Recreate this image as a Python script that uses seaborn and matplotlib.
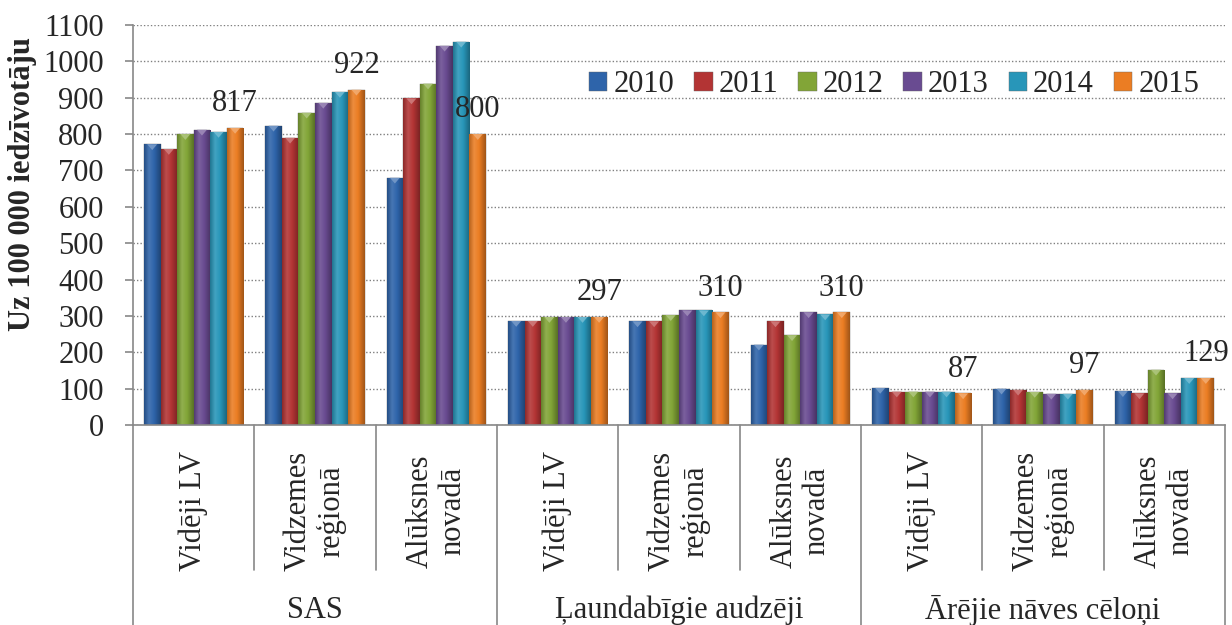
import matplotlib
matplotlib.use("Agg")
import matplotlib.pyplot as plt
import seaborn as sns
import pandas as pd
import numpy as np
from matplotlib.colors import to_rgb, LinearSegmentedColormap
from matplotlib.patches import Polygon

# ---- data ----
years = ["2010", "2011", "2012", "2013", "2014", "2015"]
groups = ["SAS", "Ļaundabīgie audzēji", "Ārējie nāves cēloņi"]
regions = ["Vidēji LV", "Vidzemes\nreģionā", "Alūksnes\nnovadā"]

# order: SAS(LV, Vidz, Alūk), Ļaundabīgie(LV, Vidz, Alūk), Ārējie(LV, Vidz, Alūk)
v2010 = [772, 823, 680, 286, 285, 221, 102, 100, 93]
v2011 = [759, 790, 898, 286, 285, 285, 92, 97, 87]
v2012 = [800, 859, 939, 297, 302, 247, 92, 91, 152]
v2013 = [812, 886, 1043, 297, 315, 310, 92, 86, 87]
v2014 = [806, 916, 1054, 297, 315, 304, 92, 86, 129]
v2015 = [817, 922, 800, 297, 310, 310, 87, 97, 129]

colors = ["#2E64AA", "#B33434", "#82A537", "#694B91", "#2896B9", "#EB7D23"]

series = [v2010, v2011, v2012, v2013, v2014, v2015]
cats = [f"{g}|{r}" for g in groups for r in regions]
rows = []
for y, vals in zip(years, series):
    for c, v in zip(cats, vals):
        rows.append({"cat": c, "year": y, "value": v})
df = pd.DataFrame(rows)

sns.set_style("white")
plt.rcParams["font.family"] = ["Liberation Serif", "DejaVu Serif"]
FS = 22

fig = plt.figure(figsize=(12.32, 6.25), dpi=100)
ax = fig.add_axes([133 / 1232, 1 - 425 / 625, (1225 - 133) / 1232, 400 / 625])

sns.barplot(data=df, x="cat", y="value", hue="year", order=cats, hue_order=years,
            palette=colors, width=0.82, ax=ax, saturation=1, legend=True,
            edgecolor="#666666", linewidth=0.3)


def shade(rgb, f):
    rgb = np.array(rgb)
    if f < 1:
        return tuple(rgb * f)
    return tuple(rgb + (1 - rgb) * (f - 1))


# gradient shading on bars (styling only; geometry from the library's patches)
for cont, col in zip(ax.containers, colors):
    base = to_rgb(col)
    cmap = LinearSegmentedColormap.from_list(
        "g", [(0, shade(base, 0.78)), (0.3, shade(base, 1.12)),
              (0.6, shade(base, 1.0)), (1, shade(base, 0.68))])
    grad = np.linspace(0, 1, 64).reshape(1, -1)
    for p in cont.patches:
        x, y0 = p.get_x(), p.get_y()
        w, h = p.get_width(), p.get_height()
        im = ax.imshow(grad, cmap=cmap, aspect="auto", extent=(x, x + w, y0, y0 + h),
                       zorder=p.get_zorder() + 0.1, interpolation="bilinear")
        im.set_clip_path(p)
        th = min(16, h * 0.5)
        tri = Polygon([[x + 0.2 * w, y0 + h], [x + 0.8 * w, y0 + h], [x + 0.5 * w, y0 + h - th]],
                      closed=True, facecolor=shade(base, 1.35), edgecolor="none",
                      zorder=p.get_zorder() + 0.2, alpha=0.9)
        ax.add_patch(tri)

ax.set_xlim(-0.5, len(cats) - 0.5)
ax.set_ylim(0, 1100)
ax.set_yticks(range(0, 1101, 100))
ax.tick_params(axis="y", labelsize=FS, length=6, width=1.2, color="#888888", pad=15,
               direction="out", left=True)
ax.set_xticks([])
ax.set_xlabel("")
ax.set_ylabel("Uz 100 000 iedzīvotāju", fontsize=FS, fontweight="bold")
ax.yaxis.set_label_coords((37 - 133) / 1092, (425 - 184) / 400)
ax.yaxis.grid(True, linestyle=(0, (1, 1.5)), color="#808080", linewidth=1)
ax.set_axisbelow(True)
for s in ["top", "right"]:
    ax.spines[s].set_visible(False)
for s in ["left", "bottom"]:
    ax.spines[s].set_color("#888888")
    ax.spines[s].set_linewidth(1.2)

# data labels on the 2015 bars
ax.bar_label(ax.containers[-1], labels=[str(v) for v in v2015], padding=7, fontsize=FS,
             zorder=5)

# multi-level category axis
trans = ax.get_xaxis_transform()
n = len(cats)
for i in range(n + 1):
    xb = i - 0.5
    outer = (i % 3 == 0)
    ax.plot([xb, xb], [0, -0.5 if outer else -0.3625], transform=trans,
            color="#888888", lw=1.2, clip_on=False)
for i, c in enumerate(cats):
    r = c.split("|")[1]
    ax.text(i, -0.215, r, transform=trans, rotation=90, ha="center", va="center",
            fontsize=FS, linespacing=1.18, multialignment="center")
for j, g in enumerate(groups):
    ax.text(j * 3 + 1, -0.463, g, transform=trans, ha="center", va="center", fontsize=FS)

leg = ax.legend(loc="center", bbox_to_anchor=(0.697, 0.85), ncol=6, frameon=False,
                fontsize=FS, handlelength=0.6, handleheight=0.6, handletextpad=0.2,
                columnspacing=0.65, borderaxespad=0)

fig.savefig("out.png", dpi=100)
